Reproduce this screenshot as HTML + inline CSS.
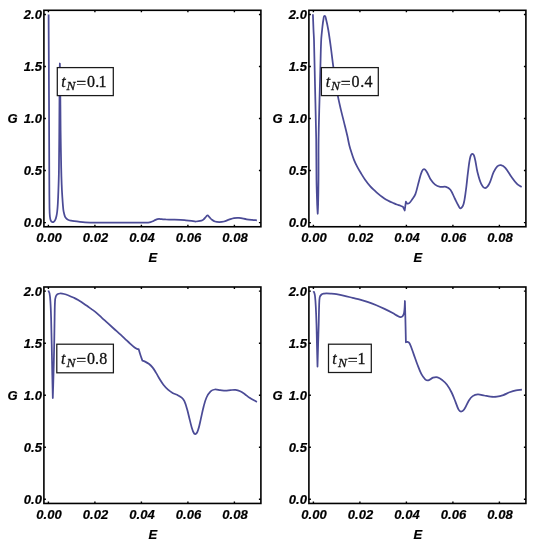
<!DOCTYPE html>
<html><head><meta charset="utf-8"><title>G vs E</title>
<style>
html,body{margin:0;padding:0;background:#fff;}
body{width:550px;height:547px;overflow:hidden;}
svg{display:block;}
.tl{font-family:"Liberation Sans",Arial,sans-serif;font-weight:bold;font-style:italic;font-size:13px;fill:#000;stroke:#000;stroke-width:0.2px;}
.lg{font-family:"Liberation Serif","Times New Roman",serif;font-size:16px;fill:#111;stroke:#111;stroke-width:0.3px;}
</style></head>
<body>
<svg width="550" height="547" viewBox="0 0 550 547">
<rect width="550" height="547" fill="#fff"/>
<rect x="43.90" y="10.30" width="217.00" height="216.45" fill="none" stroke="#000" stroke-width="1.6"/>
<path d="M48.40,226.75v-2.0 M48.40,10.30v2.0 M94.90,226.75v-2.0 M94.90,10.30v2.0 M141.40,226.75v-2.0 M141.40,10.30v2.0 M187.90,226.75v-2.0 M187.90,10.30v2.0 M234.40,226.75v-2.0 M234.40,10.30v2.0 M43.90,222.59h2.0 M260.90,222.59h-2.0 M43.90,170.56h2.0 M260.90,170.56h-2.0 M43.90,118.52h2.0 M260.90,118.52h-2.0 M43.90,66.49h2.0 M260.90,66.49h-2.0 M43.90,14.46h2.0 M260.90,14.46h-2.0" stroke="#000" stroke-width="1.4" fill="none"/>
<text class="tl" x="41.90" y="226.94" text-anchor="end">0.0</text>
<text class="tl" x="41.90" y="174.91" text-anchor="end">0.5</text>
<text class="tl" x="41.90" y="122.87" text-anchor="end">1.0</text>
<text class="tl" x="41.90" y="70.84" text-anchor="end">1.5</text>
<text class="tl" x="41.90" y="18.81" text-anchor="end">2.0</text>
<text class="tl" x="49.00" y="241.85" text-anchor="middle">0.00</text>
<text class="tl" x="95.50" y="241.85" text-anchor="middle">0.02</text>
<text class="tl" x="142.00" y="241.85" text-anchor="middle">0.04</text>
<text class="tl" x="188.50" y="241.85" text-anchor="middle">0.06</text>
<text class="tl" x="235.00" y="241.85" text-anchor="middle">0.08</text>
<text class="tl" x="7.40" y="122.70">G</text>
<text class="tl" x="148.60" y="262.00">E</text>
<rect x="308.90" y="10.30" width="217.00" height="216.45" fill="none" stroke="#000" stroke-width="1.6"/>
<path d="M313.40,226.75v-2.0 M313.40,10.30v2.0 M359.90,226.75v-2.0 M359.90,10.30v2.0 M406.40,226.75v-2.0 M406.40,10.30v2.0 M452.90,226.75v-2.0 M452.90,10.30v2.0 M499.40,226.75v-2.0 M499.40,10.30v2.0 M308.90,222.59h2.0 M525.90,222.59h-2.0 M308.90,170.56h2.0 M525.90,170.56h-2.0 M308.90,118.52h2.0 M525.90,118.52h-2.0 M308.90,66.49h2.0 M525.90,66.49h-2.0 M308.90,14.46h2.0 M525.90,14.46h-2.0" stroke="#000" stroke-width="1.4" fill="none"/>
<text class="tl" x="306.90" y="226.94" text-anchor="end">0.0</text>
<text class="tl" x="306.90" y="174.91" text-anchor="end">0.5</text>
<text class="tl" x="306.90" y="122.87" text-anchor="end">1.0</text>
<text class="tl" x="306.90" y="70.84" text-anchor="end">1.5</text>
<text class="tl" x="306.90" y="18.81" text-anchor="end">2.0</text>
<text class="tl" x="314.00" y="241.85" text-anchor="middle">0.00</text>
<text class="tl" x="360.50" y="241.85" text-anchor="middle">0.02</text>
<text class="tl" x="407.00" y="241.85" text-anchor="middle">0.04</text>
<text class="tl" x="453.50" y="241.85" text-anchor="middle">0.06</text>
<text class="tl" x="500.00" y="241.85" text-anchor="middle">0.08</text>
<text class="tl" x="272.40" y="122.70">G</text>
<text class="tl" x="413.60" y="262.00">E</text>
<rect x="43.90" y="287.00" width="217.00" height="216.45" fill="none" stroke="#000" stroke-width="1.6"/>
<path d="M48.40,503.45v-2.0 M48.40,287.00v2.0 M94.90,503.45v-2.0 M94.90,287.00v2.0 M141.40,503.45v-2.0 M141.40,287.00v2.0 M187.90,503.45v-2.0 M187.90,287.00v2.0 M234.40,503.45v-2.0 M234.40,287.00v2.0 M43.90,499.29h2.0 M260.90,499.29h-2.0 M43.90,447.26h2.0 M260.90,447.26h-2.0 M43.90,395.22h2.0 M260.90,395.22h-2.0 M43.90,343.19h2.0 M260.90,343.19h-2.0 M43.90,291.16h2.0 M260.90,291.16h-2.0" stroke="#000" stroke-width="1.4" fill="none"/>
<text class="tl" x="41.90" y="503.94" text-anchor="end">0.0</text>
<text class="tl" x="41.90" y="451.91" text-anchor="end">0.5</text>
<text class="tl" x="41.90" y="399.88" text-anchor="end">1.0</text>
<text class="tl" x="41.90" y="347.84" text-anchor="end">1.5</text>
<text class="tl" x="41.90" y="295.81" text-anchor="end">2.0</text>
<text class="tl" x="49.00" y="518.85" text-anchor="middle">0.00</text>
<text class="tl" x="95.50" y="518.85" text-anchor="middle">0.02</text>
<text class="tl" x="142.00" y="518.85" text-anchor="middle">0.04</text>
<text class="tl" x="188.50" y="518.85" text-anchor="middle">0.06</text>
<text class="tl" x="235.00" y="518.85" text-anchor="middle">0.08</text>
<text class="tl" x="7.40" y="399.70">G</text>
<text class="tl" x="148.60" y="539.00">E</text>
<rect x="308.90" y="287.00" width="217.00" height="216.45" fill="none" stroke="#000" stroke-width="1.6"/>
<path d="M313.40,503.45v-2.0 M313.40,287.00v2.0 M359.90,503.45v-2.0 M359.90,287.00v2.0 M406.40,503.45v-2.0 M406.40,287.00v2.0 M452.90,503.45v-2.0 M452.90,287.00v2.0 M499.40,503.45v-2.0 M499.40,287.00v2.0 M308.90,499.29h2.0 M525.90,499.29h-2.0 M308.90,447.26h2.0 M525.90,447.26h-2.0 M308.90,395.22h2.0 M525.90,395.22h-2.0 M308.90,343.19h2.0 M525.90,343.19h-2.0 M308.90,291.16h2.0 M525.90,291.16h-2.0" stroke="#000" stroke-width="1.4" fill="none"/>
<text class="tl" x="306.90" y="503.94" text-anchor="end">0.0</text>
<text class="tl" x="306.90" y="451.91" text-anchor="end">0.5</text>
<text class="tl" x="306.90" y="399.88" text-anchor="end">1.0</text>
<text class="tl" x="306.90" y="347.84" text-anchor="end">1.5</text>
<text class="tl" x="306.90" y="295.81" text-anchor="end">2.0</text>
<text class="tl" x="314.00" y="518.85" text-anchor="middle">0.00</text>
<text class="tl" x="360.50" y="518.85" text-anchor="middle">0.02</text>
<text class="tl" x="407.00" y="518.85" text-anchor="middle">0.04</text>
<text class="tl" x="453.50" y="518.85" text-anchor="middle">0.06</text>
<text class="tl" x="500.00" y="518.85" text-anchor="middle">0.08</text>
<text class="tl" x="272.40" y="399.70">G</text>
<text class="tl" x="413.60" y="539.00">E</text>
<path d="M48.60,14.40 C48.73,42.93 48.88,71.47 49.00,100.00 C49.11,126.67 49.18,153.33 49.30,180.00 C49.34,189.33 49.35,198.67 49.50,208.00 C49.55,210.84 49.61,213.68 49.90,216.50 C50.04,217.89 50.24,219.32 50.80,220.60 C51.10,221.29 51.68,221.98 52.40,222.20 C52.94,222.37 53.57,221.97 54.00,221.60 C54.61,221.07 55.06,220.34 55.40,219.60 C55.87,218.55 56.15,217.42 56.40,216.30 C56.75,214.72 57.02,213.11 57.20,211.50 C57.48,209.01 57.66,206.50 57.80,204.00 C58.06,199.34 58.24,194.67 58.40,190.00 C58.61,184.00 58.81,178.00 58.90,172.00 C59.11,158.00 59.19,144.00 59.30,130.00 C59.43,113.33 59.46,96.67 59.60,80.00 C59.65,74.50 59.85,63.50 59.85,63.50 C59.85,63.50 60.14,74.50 60.20,80.00 C60.39,96.67 60.41,113.33 60.60,130.00 C60.74,142.67 60.95,155.33 61.20,168.00 C61.31,173.67 61.49,179.33 61.70,185.00 C61.82,188.34 61.98,191.67 62.20,195.00 C62.52,199.84 62.79,204.68 63.30,209.50 C63.46,211.02 63.83,212.51 64.20,214.00 C64.43,214.95 64.67,215.92 65.10,216.80 C65.45,217.51 65.94,218.14 66.50,218.70 C66.92,219.12 67.45,219.47 68.00,219.70 C68.96,220.11 69.99,220.35 71.00,220.60 C72.05,220.86 73.13,221.04 74.20,221.20 C76.13,221.48 78.06,221.70 80.00,221.90 C81.70,222.07 83.40,222.23 85.10,222.30 C88.73,222.46 92.37,222.55 96.00,222.60 C100.67,222.67 105.33,222.64 110.00,222.65 C116.67,222.67 123.33,222.69 130.00,222.70 C133.33,222.71 136.67,222.72 140.00,222.70 C142.73,222.68 145.47,222.73 148.20,222.60 C149.01,222.56 149.82,222.43 150.60,222.20 C151.43,221.96 152.22,221.57 153.00,221.20 C153.85,220.80 154.65,220.30 155.50,219.90 C156.15,219.60 156.81,219.29 157.50,219.10 C158.02,218.96 158.56,218.90 159.10,218.90 C159.74,218.90 160.37,219.02 161.00,219.10 C161.67,219.19 162.33,219.35 163.00,219.40 C164.00,219.48 165.00,219.48 166.00,219.50 C168.00,219.54 170.00,219.56 172.00,219.60 C174.83,219.66 177.67,219.66 180.50,219.80 C182.34,219.89 184.17,220.12 186.00,220.30 C187.84,220.48 189.67,220.68 191.50,220.90 C193.00,221.08 194.49,221.53 196.00,221.50 C197.85,221.46 199.71,221.16 201.50,220.70 C202.21,220.52 202.84,220.07 203.40,219.60 C204.18,218.95 204.80,218.13 205.50,217.40 C206.13,216.73 206.48,215.45 207.40,215.40 C208.30,215.35 208.75,216.58 209.40,217.20 C210.29,218.05 211.03,219.05 212.00,219.80 C212.91,220.50 213.90,221.16 215.00,221.50 C216.35,221.91 217.79,222.00 219.20,222.00 C220.81,222.00 222.43,221.87 224.00,221.50 C225.72,221.10 227.32,220.27 229.00,219.70 C230.66,219.14 232.28,218.41 234.00,218.10 C235.64,217.80 237.34,217.74 239.00,217.90 C241.60,218.15 244.12,218.90 246.70,219.30 C248.46,219.57 250.23,219.73 252.00,219.90 C253.63,220.06 255.27,220.17 256.90,220.30" fill="none" stroke="#4b4b96" stroke-width="1.75" stroke-linejoin="round" stroke-linecap="butt"/>
<path d="M312.90,14.20 C313.10,19.47 313.28,24.73 313.50,30.00 C313.64,33.33 313.91,36.66 314.00,40.00 C314.41,55.00 314.67,70.00 315.00,85.00 C315.40,103.00 315.92,121.00 316.20,139.00 C316.42,152.67 316.29,166.33 316.50,180.00 C316.63,188.34 316.90,196.67 317.20,205.00 C317.30,207.94 317.70,213.80 317.70,213.80 C317.70,213.80 318.03,207.94 318.10,205.00 C318.30,196.67 318.44,188.33 318.50,180.00 C318.60,166.33 318.43,152.67 318.60,139.00 C318.76,126.00 319.18,113.00 319.50,100.00 C319.78,89.00 320.09,78.00 320.40,67.00 C320.66,58.00 320.76,48.99 321.20,40.00 C321.40,35.99 321.86,31.99 322.30,28.00 C322.63,24.99 322.92,21.97 323.50,19.00 C323.72,17.88 323.56,15.80 324.70,15.80 C325.85,15.80 325.72,17.88 326.00,19.00 C326.92,22.63 327.67,26.31 328.30,30.00 C329.27,35.65 330.02,41.33 330.80,47.00 C331.69,53.53 332.39,60.08 333.30,66.60 C333.99,71.58 334.83,76.53 335.60,81.50 C336.36,86.40 336.99,91.32 337.90,96.20 C338.73,100.63 339.77,105.01 340.80,109.40 C341.84,113.82 343.01,118.20 344.10,122.60 C345.15,126.83 346.22,131.05 347.20,135.30 C347.96,138.59 348.49,141.93 349.30,145.20 C349.89,147.60 350.64,149.95 351.40,152.30 C352.24,154.92 353.07,157.55 354.10,160.10 C355.04,162.42 356.14,164.68 357.30,166.90 C358.44,169.08 359.72,171.20 361.00,173.30 C362.32,175.46 363.63,177.64 365.10,179.70 C366.67,181.91 368.31,184.07 370.10,186.10 C371.61,187.81 373.34,189.33 375.00,190.90 C376.17,192.00 377.37,193.07 378.60,194.10 C379.80,195.10 381.04,196.07 382.30,197.00 C383.47,197.87 384.65,198.74 385.90,199.50 C387.06,200.21 388.28,200.81 389.50,201.40 C390.71,201.98 391.96,202.47 393.20,203.00 C394.40,203.51 395.58,204.05 396.80,204.50 C398.02,204.95 399.28,205.25 400.50,205.70 C401.35,206.02 403.00,206.80 403.00,206.80 C403.00,206.80 404.70,210.50 404.70,210.50 C404.70,210.50 405.90,201.60 405.90,201.60 C405.90,201.60 406.36,203.11 407.00,203.40 C407.67,203.71 408.61,203.55 409.20,203.10 C410.42,202.16 411.23,200.77 412.10,199.50 C413.30,197.76 414.67,196.08 415.40,194.10 C416.99,189.82 417.74,185.28 419.00,180.90 C419.91,177.72 420.58,174.44 421.90,171.40 C422.31,170.45 423.08,169.04 424.10,169.20 C425.47,169.42 426.25,171.03 427.00,172.20 C428.47,174.50 429.21,177.22 430.70,179.50 C431.93,181.38 433.32,183.23 435.10,184.60 C436.57,185.73 438.39,186.43 440.20,186.80 C442.10,187.18 444.14,186.27 446.00,186.80 C447.69,187.28 449.34,188.30 450.40,189.70 C452.37,192.32 453.33,195.57 454.80,198.50 C456.03,200.94 457.09,203.46 458.50,205.80 C459.07,206.75 459.64,208.62 460.70,208.30 C462.26,207.83 463.04,205.86 463.50,204.30 C464.77,199.98 465.18,195.46 465.80,191.00 C466.68,184.75 467.18,178.46 468.00,172.20 C468.65,167.29 469.04,162.32 470.20,157.50 C470.53,156.13 470.99,153.90 472.40,153.90 C473.81,153.90 474.22,156.15 474.60,157.50 C475.94,162.31 476.29,167.35 477.50,172.20 C478.49,176.17 479.43,180.21 481.20,183.90 C482.02,185.60 483.21,188.00 485.10,188.00 C487.03,188.00 488.28,185.60 489.20,183.90 C491.17,180.23 491.86,175.99 493.60,172.20 C494.57,170.09 495.64,167.92 497.30,166.30 C498.21,165.42 499.66,164.87 500.90,165.10 C502.59,165.42 504.15,166.52 505.30,167.80 C507.65,170.40 509.14,173.67 511.20,176.50 C513.04,179.04 514.81,181.66 517.00,183.90 C518.31,185.23 520.07,186.03 521.60,187.10" fill="none" stroke="#4b4b96" stroke-width="1.75" stroke-linejoin="round" stroke-linecap="butt"/>
<path d="M48.30,290.50 C48.70,291.40 49.31,292.23 49.50,293.20 C50.02,295.90 50.22,298.66 50.40,301.40 C50.76,306.89 50.93,312.40 51.10,317.90 C51.37,326.66 51.52,335.43 51.70,344.20 C51.92,354.47 52.09,364.73 52.30,375.00 C52.46,382.67 52.80,398.00 52.80,398.00 C52.80,398.00 53.30,382.67 53.50,375.00 C53.77,364.73 54.00,354.47 54.20,344.20 C54.37,335.43 54.44,326.67 54.60,317.90 C54.70,312.40 54.69,306.89 55.00,301.40 C55.09,299.75 55.27,298.07 55.80,296.50 C56.09,295.64 56.66,294.83 57.40,294.30 C58.14,293.77 59.09,293.54 60.00,293.50 C61.41,293.44 62.83,293.67 64.20,294.00 C65.88,294.41 67.49,295.07 69.10,295.70 C70.76,296.34 72.39,297.06 74.00,297.80 C75.42,298.46 76.85,299.12 78.20,299.90 C79.78,300.82 81.28,301.88 82.80,302.90 C84.31,303.91 85.82,304.94 87.30,306.00 C88.62,306.94 89.89,307.95 91.20,308.90 C92.46,309.81 93.80,310.61 95.00,311.60 C97.21,313.42 99.28,315.38 101.40,317.30 C103.55,319.25 105.66,321.24 107.80,323.20 C109.93,325.14 112.06,327.08 114.20,329.00 C116.33,330.91 118.48,332.78 120.60,334.70 C122.08,336.05 123.54,337.43 125.00,338.80 C126.70,340.40 128.37,342.03 130.10,343.60 C131.57,344.93 133.03,346.29 134.60,347.50 C135.33,348.06 136.14,348.55 137.00,348.90 C137.53,349.12 138.70,349.20 138.70,349.20 C138.70,349.20 139.92,353.41 140.60,355.50 C141.16,357.21 142.40,360.60 142.40,360.60 C142.40,360.60 144.24,361.17 145.10,361.60 C146.38,362.24 147.67,362.91 148.80,363.80 C150.15,364.86 151.42,366.06 152.50,367.40 C153.87,369.11 154.95,371.03 156.10,372.90 C157.39,375.00 158.51,377.20 159.80,379.30 C160.95,381.17 162.04,383.08 163.40,384.80 C164.79,386.56 166.33,388.21 168.00,389.70 C169.41,390.96 170.95,392.08 172.60,393.00 C174.01,393.79 175.66,394.07 177.10,394.80 C178.70,395.61 180.35,396.42 181.70,397.60 C182.83,398.59 183.77,399.84 184.40,401.20 C185.63,403.85 186.40,406.69 187.20,409.50 C188.23,413.10 188.95,416.78 189.90,420.40 C190.79,423.78 191.40,427.26 192.70,430.50 C193.26,431.89 193.92,434.34 195.40,434.10 C197.14,433.81 197.61,431.26 198.20,429.60 C199.46,426.04 200.03,422.27 200.90,418.60 C201.83,414.64 202.56,410.63 203.60,406.70 C204.42,403.59 205.17,400.43 206.50,397.50 C207.53,395.24 208.82,393.02 210.60,391.30 C211.70,390.24 213.29,389.69 214.80,389.50 C216.56,389.28 218.33,389.90 220.10,390.10 C221.87,390.30 223.62,390.70 225.40,390.70 C227.18,390.70 228.93,390.24 230.70,390.10 C232.30,389.97 233.91,389.70 235.50,389.90 C237.12,390.10 238.71,390.62 240.20,391.30 C241.87,392.07 243.39,393.15 244.90,394.20 C246.52,395.32 247.94,396.73 249.60,397.80 C251.95,399.31 254.47,400.53 256.90,401.90" fill="none" stroke="#4b4b96" stroke-width="1.75" stroke-linejoin="round" stroke-linecap="butt"/>
<path d="M313.30,291.20 C313.60,291.63 314.02,292.00 314.20,292.50 C314.60,293.63 314.87,294.81 315.00,296.00 C315.40,299.62 315.61,303.26 315.80,306.90 C316.11,312.76 316.32,318.63 316.50,324.50 C316.71,331.33 316.79,338.17 316.95,345.00 C317.12,352.20 317.50,366.60 317.50,366.60 C317.50,366.60 317.89,352.20 318.10,345.00 C318.29,338.17 318.52,331.33 318.70,324.50 C318.85,318.63 318.88,312.76 319.10,306.90 C319.22,303.73 319.10,300.52 319.70,297.40 C319.92,296.28 320.65,295.25 321.50,294.50 C322.16,293.91 323.13,293.79 324.00,293.60 C324.82,293.42 325.66,293.40 326.50,293.40 C327.83,293.40 329.17,293.49 330.50,293.60 C332.47,293.76 334.45,293.89 336.40,294.20 C339.12,294.63 341.82,295.19 344.50,295.80 C347.25,296.42 349.96,297.23 352.70,297.90 C355.13,298.49 357.59,298.95 360.00,299.60 C362.76,300.35 365.50,301.18 368.20,302.10 C370.97,303.04 373.70,304.07 376.40,305.20 C379.14,306.34 381.82,307.62 384.50,308.90 C387.26,310.22 390.00,311.56 392.70,313.00 C394.37,313.89 395.92,315.02 397.60,315.90 C398.53,316.39 399.46,317.02 400.50,317.10 C401.25,317.16 402.15,316.90 402.60,316.30 C403.47,315.16 403.94,313.71 404.15,312.30 C404.71,308.57 404.90,301.00 404.90,301.00 C404.90,301.00 405.19,310.40 405.30,315.10 C405.52,324.17 405.90,342.30 405.90,342.30 C405.90,342.30 407.03,341.65 407.60,341.80 C408.40,342.02 409.23,342.55 409.60,343.30 C411.24,346.58 412.23,350.15 413.50,353.60 C414.83,357.22 416.02,360.90 417.40,364.50 C418.62,367.67 419.72,370.90 421.30,373.90 C422.34,375.86 423.57,377.79 425.20,379.30 C426.00,380.05 427.23,380.62 428.30,380.40 C430.07,380.04 431.29,378.27 433.00,377.70 C434.46,377.21 436.11,376.92 437.60,377.30 C439.37,377.76 440.87,378.97 442.30,380.10 C444.02,381.46 445.68,382.95 447.00,384.70 C448.81,387.11 450.26,389.80 451.60,392.50 C453.10,395.51 454.23,398.69 455.50,401.80 C456.56,404.39 457.22,407.17 458.60,409.60 C459.10,410.49 459.98,411.50 461.00,411.50 C462.21,411.50 463.39,410.58 464.10,409.60 C466.10,406.81 467.06,403.39 468.90,400.50 C469.94,398.87 471.10,397.20 472.70,396.10 C474.18,395.09 476.01,394.49 477.80,394.40 C479.96,394.29 482.07,395.11 484.20,395.50 C486.30,395.88 488.37,396.50 490.50,396.70 C492.62,396.90 494.78,396.96 496.90,396.70 C499.08,396.43 501.22,395.82 503.30,395.10 C505.47,394.35 507.44,393.10 509.60,392.30 C511.69,391.53 513.82,390.86 516.00,390.40 C517.94,389.99 519.93,389.93 521.90,389.70" fill="none" stroke="#4b4b96" stroke-width="1.75" stroke-linejoin="round" stroke-linecap="butt"/>
<rect x="57.30" y="67.60" width="56.00" height="28.00" fill="#fff" stroke="#1a1a1a" stroke-width="1.25"/>
<text class="lg" x="61.20" y="86.60" font-style="italic">t</text>
<text class="lg" x="66.60" y="90.20" font-style="italic" style="font-size:13.4px">N</text>
<text class="lg" transform="translate(76.25,88.29) scale(1.1,0.9)" x="0" y="0">=</text>
<text class="lg" x="87.00" y="86.60">0</text>
<text class="lg" x="95.20" y="86.60">.</text>
<text class="lg" x="98.60" y="86.60">1</text>
<rect x="321.40" y="67.60" width="56.90" height="28.00" fill="#fff" stroke="#1a1a1a" stroke-width="1.25"/>
<text class="lg" x="325.70" y="86.60" font-style="italic">t</text>
<text class="lg" x="331.00" y="90.20" font-style="italic" style="font-size:13.4px">N</text>
<text class="lg" transform="translate(340.75,88.29) scale(1.1,0.9)" x="0" y="0">=</text>
<text class="lg" x="351.60" y="86.60">0</text>
<text class="lg" x="360.20" y="86.60">.</text>
<text class="lg" x="364.60" y="86.60">4</text>
<rect x="56.80" y="344.20" width="56.60" height="28.60" fill="#fff" stroke="#1a1a1a" stroke-width="1.25"/>
<text class="lg" x="61.00" y="363.60" font-style="italic">t</text>
<text class="lg" x="66.60" y="367.20" font-style="italic" style="font-size:13.4px">N</text>
<text class="lg" transform="translate(76.25,365.29) scale(1.1,0.9)" x="0" y="0">=</text>
<text class="lg" x="87.00" y="363.60">0</text>
<text class="lg" x="95.00" y="363.60">.</text>
<text class="lg" x="99.20" y="363.60">8</text>
<rect x="328.50" y="344.20" width="42.80" height="28.30" fill="#fff" stroke="#1a1a1a" stroke-width="1.25"/>
<text class="lg" x="332.20" y="363.80" font-style="italic">t</text>
<text class="lg" x="337.90" y="367.40" font-style="italic" style="font-size:13.4px">N</text>
<text class="lg" transform="translate(347.85,365.49) scale(1.1,0.9)" x="0" y="0">=</text>
<text class="lg" x="357.50" y="363.80">1</text>
</svg>
</body></html>
